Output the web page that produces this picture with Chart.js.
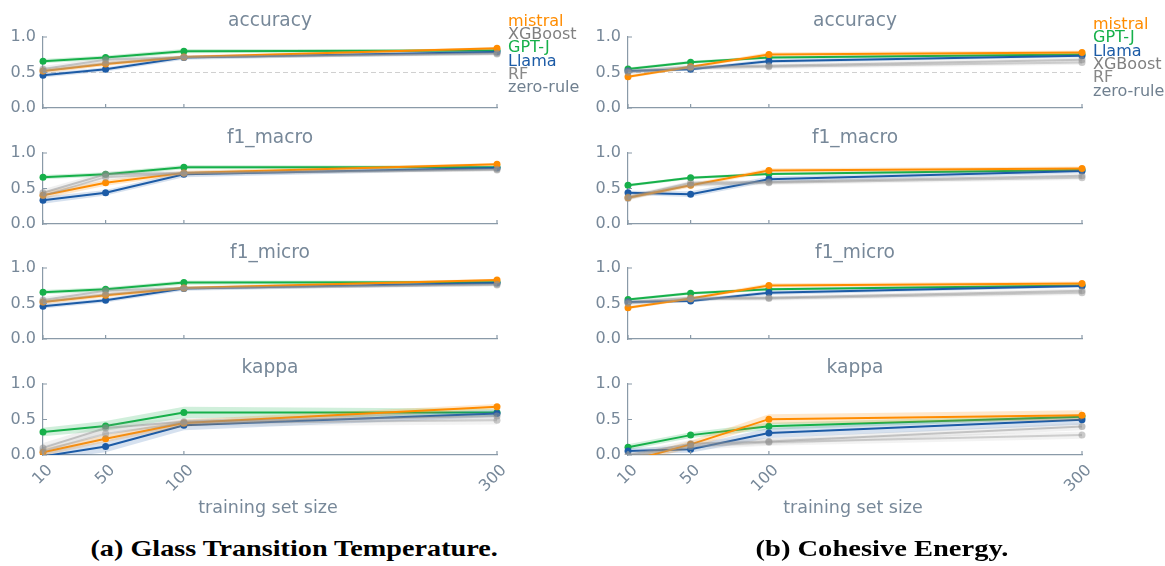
<!DOCTYPE html>
<html lang="en">
<head>
<meta charset="UTF-8">
<title>Learning curves</title>
<script src="https://cdn.jsdelivr.net/npm/chart.js"></script>
<style>
  body { margin: 0; background: #fff; font-family: 'DejaVu Sans', sans-serif; color: #778899; }
  #page { position: relative; width: 1165px; height: 566px; overflow: hidden; background: #fff; }
  canvas { position: absolute; }
  .txt { position: absolute; white-space: nowrap; }
  .title { font-size: 18.6px; line-height: 22px; transform: translateX(-50%); }
  .xtitle { font-size: 17.5px; line-height: 20px; transform: translateX(-50%); }
  .legend { font-size: 16px; line-height: 13.33px; }
  .caption { font-family: 'Liberation Serif', serif; font-weight: bold; font-size: 23px; line-height: 26px; color: #000; }
</style>
</head>
<body>
<div id="page"></div>
<script>
// x values and ticks
const trainingSizes = [10, 50, 100, 300];
const yTickValues = [0, 0.5, 1.0];
const metricNames = ['accuracy', 'f1_macro', 'f1_micro', 'kappa'];
const zeroRuleAccuracy = [0.5, 0.5, 0.5, 0.5];

// (a) Glass Transition Temperature
const glassAccuracy = {
  mistral: [0.52, 0.62, 0.72, 0.84],
  xgboost: [0.55, 0.68, 0.72, 0.77],
  gptj:    [0.66, 0.71, 0.80, 0.81],
  llama:   [0.46, 0.545, 0.71, 0.79],
  rf:      [0.52, 0.63, 0.71, 0.76]
};
const glassF1Macro = {
  mistral: [0.405, 0.58, 0.72, 0.84],
  xgboost: [0.44, 0.70, 0.72, 0.77],
  gptj:    [0.66, 0.70, 0.80, 0.80],
  llama:   [0.335, 0.44, 0.70, 0.79],
  rf:      [0.40, 0.66, 0.71, 0.76]
};
const glassF1Micro = {
  mistral: [0.52, 0.615, 0.72, 0.83],
  xgboost: [0.55, 0.68, 0.72, 0.77],
  gptj:    [0.66, 0.70, 0.795, 0.80],
  llama:   [0.46, 0.545, 0.71, 0.79],
  rf:      [0.52, 0.63, 0.71, 0.76]
};
const glassKappa = {
  mistral: [0.04, 0.23, 0.45, 0.68],
  xgboost: [0.10, 0.38, 0.47, 0.55],
  gptj:    [0.325, 0.41, 0.60, 0.60],
  llama:   [-0.02, 0.12, 0.42, 0.585],
  rf:      [0.06, 0.30, 0.45, 0.49]
};
// spread (shaded bands)
const glassAccuracyStd = {
  mistral: [0.03, 0.03, 0.02, 0.02], xgboost: [0.04, 0.03, 0.02, 0.02],
  gptj: [0.03, 0.03, 0.03, 0.02], llama: [0.03, 0.03, 0.03, 0.03], rf: [0.04, 0.03, 0.02, 0.02]
};
const glassF1MacroStd = {
  mistral: [0.05, 0.04, 0.03, 0.02], xgboost: [0.05, 0.04, 0.03, 0.02],
  gptj: [0.03, 0.03, 0.03, 0.02], llama: [0.05, 0.04, 0.04, 0.03], rf: [0.05, 0.04, 0.03, 0.02]
};
const glassF1MicroStd = {
  mistral: [0.03, 0.03, 0.02, 0.02], xgboost: [0.04, 0.03, 0.02, 0.02],
  gptj: [0.03, 0.03, 0.03, 0.02], llama: [0.03, 0.03, 0.03, 0.03], rf: [0.04, 0.03, 0.02, 0.02]
};
const glassKappaStd = {
  mistral: [0.05, 0.05, 0.05, 0.04], xgboost: [0.07, 0.06, 0.05, 0.05],
  gptj: [0.06, 0.07, 0.08, 0.05], llama: [0.06, 0.08, 0.07, 0.05], rf: [0.07, 0.07, 0.05, 0.06]
};

// (b) Cohesive Energy
const cohesiveAccuracy = {
  mistral: [0.44, 0.58, 0.755, 0.78],
  gptj:    [0.55, 0.645, 0.71, 0.755],
  llama:   [0.52, 0.545, 0.66, 0.735],
  xgboost: [0.52, 0.58, 0.595, 0.68],
  rf:      [0.50, 0.56, 0.58, 0.64]
};
const cohesiveF1Macro = {
  mistral: [0.37, 0.545, 0.755, 0.78],
  gptj:    [0.545, 0.65, 0.705, 0.76],
  llama:   [0.44, 0.42, 0.63, 0.745],
  xgboost: [0.38, 0.58, 0.59, 0.68],
  rf:      [0.36, 0.55, 0.58, 0.65]
};
const cohesiveF1Micro = {
  mistral: [0.44, 0.57, 0.755, 0.78],
  gptj:    [0.555, 0.645, 0.70, 0.755],
  llama:   [0.52, 0.535, 0.65, 0.745],
  xgboost: [0.52, 0.58, 0.58, 0.68],
  rf:      [0.50, 0.56, 0.57, 0.65]
};
const cohesiveKappa = {
  mistral: [-0.09, 0.15, 0.505, 0.56],
  gptj:    [0.11, 0.28, 0.405, 0.54],
  llama:   [0.057, 0.08, 0.31, 0.495],
  xgboost: [0.0, 0.16, 0.19, 0.40],
  rf:      [-0.02, 0.12, 0.18, 0.28]
};
const cohesiveAccuracyStd = {
  mistral: [0.02, 0.02, 0.03, 0.03], gptj: [0.02, 0.02, 0.02, 0.02],
  llama: [0.02, 0.02, 0.03, 0.02], xgboost: [0.03, 0.03, 0.03, 0.03], rf: [0.03, 0.03, 0.03, 0.03]
};
const cohesiveF1MacroStd = {
  mistral: [0.03, 0.03, 0.03, 0.03], gptj: [0.02, 0.02, 0.02, 0.02],
  llama: [0.03, 0.04, 0.04, 0.03], xgboost: [0.03, 0.03, 0.03, 0.03], rf: [0.03, 0.03, 0.03, 0.03]
};
const cohesiveF1MicroStd = {
  mistral: [0.02, 0.02, 0.03, 0.03], gptj: [0.02, 0.02, 0.02, 0.02],
  llama: [0.02, 0.02, 0.03, 0.02], xgboost: [0.03, 0.03, 0.03, 0.03], rf: [0.03, 0.03, 0.03, 0.03]
};
const cohesiveKappaStd = {
  mistral: [0.05, 0.05, 0.07, 0.07], gptj: [0.04, 0.04, 0.05, 0.03],
  llama: [0.04, 0.05, 0.07, 0.07], xgboost: [0.04, 0.05, 0.05, 0.05], rf: [0.04, 0.05, 0.05, 0.05]
};

// look
const textColor = '#778899';
const axisColor = '#8a9aa8';
const styles = {
  mistral: { label: 'mistral', line: '#ff8c00', point: '#ff8c00', band: 'rgba(255,140,0,0.2)', text: '#ff8c00', order: 3 },
  gptj:    { label: 'GPT-J', line: '#16b04a', point: '#16b04a', band: 'rgba(22,176,74,0.2)', text: '#16b04a', order: 5 },
  llama:   { label: 'Llama', line: '#1c5ba6', point: '#1c5ba6', band: 'rgba(28,91,166,0.18)', text: '#1c5ba6', order: 4 },
  xgboost: { label: 'XGBoost', line: 'rgba(140,140,140,0.45)', point: 'rgba(140,140,140,0.55)', band: 'rgba(150,150,150,0.14)', text: '#808080', order: 2 },
  rf:      { label: 'RF', line: 'rgba(150,150,150,0.4)', point: 'rgba(150,150,150,0.5)', band: 'rgba(160,160,160,0.12)', text: '#888888', order: 1 },
  zero:    { label: 'zero-rule', text: '#708090' }
};

const panels = [
  { left: 0, caption: '(a) Glass Transition Temperature.', capCenter: 293.5, capWidth: 407,
    legendLeft: 508, legendTop: 13.8, legendKeys: ['mistral', 'xgboost', 'gptj', 'llama', 'rf', 'zero'],
    data: [glassAccuracy, glassF1Macro, glassF1Micro, glassKappa],
    std: [glassAccuracyStd, glassF1MacroStd, glassF1MicroStd, glassKappaStd] },
  { left: 585, caption: '(b) Cohesive Energy.', capCenter: 881.5, capWidth: 253,
    legendLeft: 1093, legendTop: 17.1, legendKeys: ['mistral', 'gptj', 'llama', 'xgboost', 'rf', 'zero'],
    data: [cohesiveAccuracy, cohesiveF1Macro, cohesiveF1Micro, cohesiveKappa],
    std: [cohesiveAccuracyStd, cohesiveF1MacroStd, cohesiveF1MicroStd, cohesiveKappaStd] }
];

const rowTop = [37, 153, 268, 384];
const plotH = 71;
const padV = 18; // room for the y tick labels above/below the plot area
const titleBaseline = [26.7, 143, 258.5, 373.5];

// small inward tick marks like the original plot
const innerTicks = {
  id: 'innerTicks',
  afterDraw(chart) {
    const { ctx, chartArea: a, scales: { x, y } } = chart;
    ctx.save();
    ctx.strokeStyle = axisColor;
    ctx.lineWidth = 1.2;
    ctx.beginPath();
    x.ticks.forEach(t => {
      const px = x.getPixelForValue(t.value);
      ctx.moveTo(px, a.bottom); ctx.lineTo(px, a.bottom - 4);
    });
    y.ticks.forEach(t => {
      const py = y.getPixelForValue(t.value);
      ctx.moveTo(a.left, py); ctx.lineTo(a.left + 4, py);
    });
    ctx.stroke();
    ctx.restore();
  }
};

const page = document.getElementById('page');
const pts = vals => vals.map((v, i) => ({ x: trainingSizes[i], y: v }));

function addText(cls, text, left, top, color) {
  const d = document.createElement('div');
  d.className = 'txt ' + cls;
  d.textContent = text;
  d.style.left = left + 'px';
  d.style.top = top + 'px';
  if (color) d.style.color = color;
  page.appendChild(d);
  return d;
}

panels.forEach(p => {
  metricNames.forEach((metric, r) => {
    const isBottom = r === metricNames.length - 1;
    const canvas = document.createElement('canvas');
    canvas.width = 580;
    canvas.height = isBottom ? padV + plotH + 45 : padV + plotH + padV;
    canvas.style.left = p.left + 'px';
    canvas.style.top = (rowTop[r] - padV) + 'px';
    page.appendChild(canvas);

    const series = p.data[r];
    const spread = p.std[r];
    const datasets = [];
    Object.keys(series).forEach(key => {
      const st = styles[key];
      const mean = series[key];
      const sd = spread[key];
      datasets.push({ data: pts(mean.map((v, i) => v - sd[i])), borderWidth: 0, pointRadius: 0, fill: false, order: st.order + 0.5 });
      datasets.push({ data: pts(mean.map((v, i) => v + sd[i])), borderWidth: 0, pointRadius: 0, fill: '-1', backgroundColor: st.band, order: st.order + 0.5 });
      datasets.push({ data: pts(mean), borderColor: st.line, backgroundColor: st.point, borderWidth: 2, pointRadius: 3.5, pointBorderWidth: 0, fill: false, order: st.order });
    });
    if (metric === 'accuracy') {
      datasets.push({ data: pts(zeroRuleAccuracy), borderColor: '#d0d0d0', borderDash: [5, 3], borderWidth: 1.2, pointRadius: 0, fill: false, order: 10 });
    }
    datasets.forEach(d => { d.clip = { left: 6, right: 6, top: 6, bottom: 0 }; });

    new Chart(canvas, {
      type: 'line',
      data: { datasets },
      options: {
        responsive: false,
        animation: false,
        events: [],
        layout: { autoPadding: false, padding: { left: 0, right: 83, top: padV, bottom: isBottom ? 0 : padV } },
        plugins: { legend: { display: false }, tooltip: { enabled: false }, title: { display: false } },
        scales: {
          x: {
            type: 'linear', min: 10, max: 300,
            afterBuildTicks: s => { s.ticks = trainingSizes.map(v => ({ value: v })); },
            afterFit: s => { s.height = isBottom ? 45 : 0; },
            grid: { display: false, drawTicks: false },
            border: { color: axisColor, width: 1.2 },
            ticks: { display: isBottom, autoSkip: false, minRotation: 45, maxRotation: 45, padding: 6, labelOffset: 7,
                     color: textColor, font: { family: 'DejaVu Sans', size: 16 } }
          },
          y: {
            min: 0, max: 1,
            afterBuildTicks: s => { s.ticks = yTickValues.map(v => ({ value: v })); },
            afterFit: s => { s.width = 43; },
            grid: { display: false, drawTicks: false },
            border: { color: axisColor, width: 1.2 },
            ticks: { padding: 7, color: textColor, font: { family: 'DejaVu Sans', size: 16 }, callback: v => v.toFixed(1) }
          }
        }
      },
      plugins: [innerTicks]
    });

    // subplot title
    addText('title', metric, p.left + 270, titleBaseline[r] - 17.4);
  });

  addText('xtitle', 'training set size', p.left + 268, 512 - 15.5);

  // legend as coloured text
  p.legendKeys.forEach((k, i) => {
    addText('legend', styles[k].label, p.legendLeft, p.legendTop + i * 13.33, styles[k].text);
  });

  // caption, stretched to the original width
  const cap = addText('caption', p.caption, 0, 556.3 - 20.8);
  const w = cap.offsetWidth;
  cap.style.left = (p.capCenter - w / 2) + 'px';
  cap.style.transform = 'scaleX(' + (p.capWidth / w) + ')';
});
</script>
</body>
</html>
